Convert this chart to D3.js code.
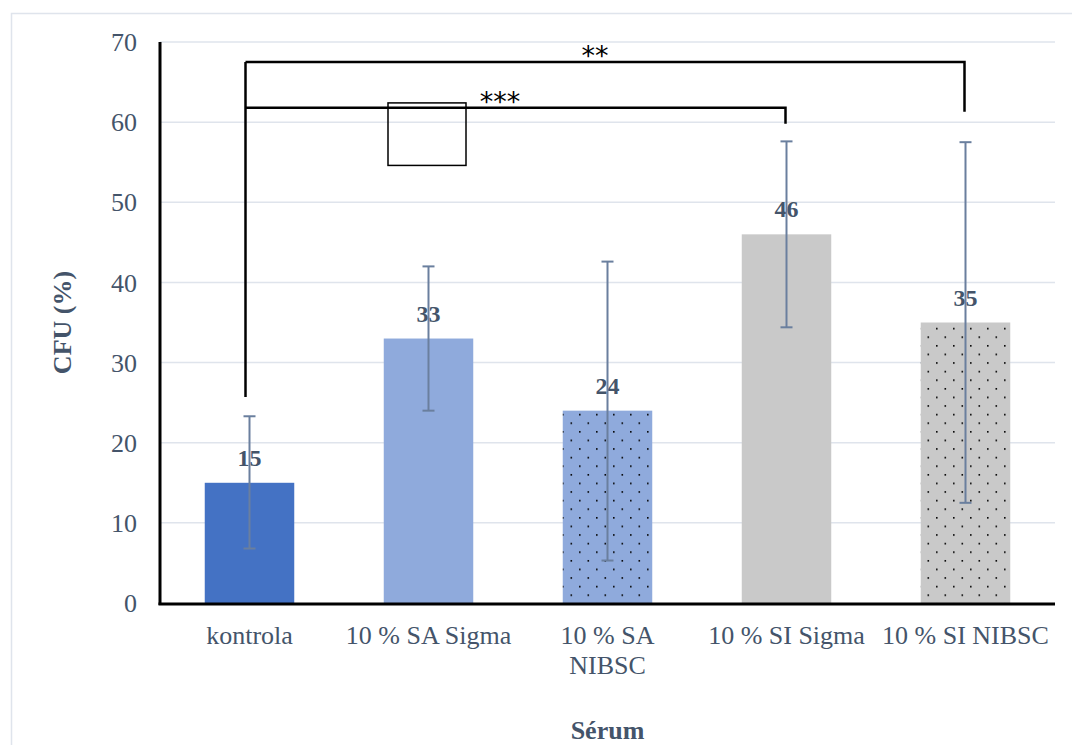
<!DOCTYPE html>
<html>
<head>
<meta charset="utf-8">
<script src="https://cdn.jsdelivr.net/npm/d3@7"></script>
<style>
  body { margin: 0; background: #fff; }
  svg { display: block; }
</style>
</head>
<body>
<div id="container"></div>
<script>
// Data
const categories = ['kontrola', '10 % SA Sigma', '10 % SA NIBSC', '10 % SI Sigma', '10 % SI NIBSC'];
const labelLines = [['kontrola'], ['10 % SA Sigma'], ['10 % SA', 'NIBSC'], ['10 % SI Sigma'], ['10 % SI NIBSC']];
const values = [15, 33, 24, 46, 35];
const errLow = [6.8, 24, 5.3, 34.4, 12.5];
const errHigh = [23.3, 42, 42.6, 57.6, 57.5];
const yTicks = [0, 10, 20, 30, 40, 50, 60, 70];
const fills = ['#4472c4', '#8faadc', '#8faadc', '#c9c9c9', '#c9c9c9'];
const dotted = [false, false, true, false, true];

// Significance brackets: [from index, to index, top value, right drop value, label]
const brackets = [
  [0, 4, 67.5, 61.3, '**'],
  [0, 3, 61.8, 59.8, '***']
];
const bracketLeftBottom = 25.7;

const W = 1072, H = 745;
const margin = { left: 160, right: 1055, top: 42, bottom: 603 };
const textColor = '#44546a';
const serif = '"Liberation Serif", "Times New Roman", serif';

const svg = d3.select('#container').append('svg')
  .attr('width', W)
  .attr('height', H);

// Frame
svg.append('rect')
  .attr('x', 11.5).attr('y', 13.5)
  .attr('width', W + 20).attr('height', H + 20)
  .attr('fill', 'none')
  .attr('stroke', '#dfe4ec')
  .attr('stroke-width', 1.5);

// Patterns for dotted bars
const defs = svg.append('defs');
dotted.forEach((d, i) => {
  if (!d) return;
  const p = defs.append('pattern')
    .attr('id', 'dots' + i)
    .attr('patternUnits', 'userSpaceOnUse')
    .attr('width', 17).attr('height', 17.2)
    .attr('x', 0).attr('y', 0);
  p.append('rect').attr('width', 17).attr('height', 17.2).attr('fill', fills[i]);
  p.append('rect').attr('x', 1).attr('y', 1).attr('width', 1.6).attr('height', 1.6).attr('fill', '#000');
  p.append('rect').attr('x', 9.5).attr('y', 9.6).attr('width', 1.6).attr('height', 1.6).attr('fill', '#000');
});

// Scales
const x = d3.scaleBand().domain(categories).range([margin.left, margin.right]).paddingInner(0.5).paddingOuter(0.25);
const y = d3.scaleLinear().domain([0, 70]).range([margin.bottom, margin.top]);

// Grid
svg.append('g')
  .selectAll('line')
  .data(yTicks.filter(t => t > 0))
  .join('line')
  .attr('x1', margin.left).attr('x2', margin.right)
  .attr('y1', d => y(d)).attr('y2', d => y(d))
  .attr('stroke', '#dfe4ec')
  .attr('stroke-width', 1.5);

// Y tick labels
svg.append('g')
  .selectAll('text')
  .data(yTicks)
  .join('text')
  .attr('x', 137)
  .attr('y', d => y(d))
  .attr('dy', '0.35em')
  .attr('text-anchor', 'end')
  .attr('font-family', serif)
  .attr('font-size', 26)
  .attr('fill', textColor)
  .text(d => d);

// Bars
svg.append('g')
  .selectAll('rect')
  .data(values)
  .join('rect')
  .attr('x', (d, i) => x(categories[i]))
  .attr('y', d => y(d))
  .attr('width', x.bandwidth())
  .attr('height', d => y(0) - y(d))
  .attr('fill', (d, i) => dotted[i] ? `url(#dots${i})` : fills[i]);

// Data labels
svg.append('g')
  .selectAll('text')
  .data(values)
  .join('text')
  .attr('x', (d, i) => x(categories[i]) + x.bandwidth() / 2)
  .attr('y', d => y(d) - 17)
  .attr('text-anchor', 'middle')
  .attr('font-family', serif)
  .attr('font-weight', 'bold')
  .attr('font-size', 24)
  .attr('fill', textColor)
  .text(d => d);

// Error bars
const eb = svg.append('g').attr('stroke', '#6a7f9e').attr('stroke-width', 2);
categories.forEach((c, i) => {
  const cx = x(c) + x.bandwidth() / 2;
  eb.append('line').attr('x1', cx).attr('x2', cx).attr('y1', y(errLow[i])).attr('y2', y(errHigh[i]));
  [errLow[i], errHigh[i]].forEach(v => {
    eb.append('line').attr('x1', cx - 6).attr('x2', cx + 6).attr('y1', y(v)).attr('y2', y(v));
  });
});

// Axes lines
svg.append('line')
  .attr('x1', margin.left).attr('x2', margin.left)
  .attr('y1', y(70)).attr('y2', y(0) + 2)
  .attr('stroke', '#000').attr('stroke-width', 3);
svg.append('line')
  .attr('x1', margin.left - 1.5).attr('x2', margin.right)
  .attr('y1', y(0) + 1).attr('y2', y(0) + 1)
  .attr('stroke', '#000').attr('stroke-width', 3);

// Category labels
const cl = svg.append('g')
  .selectAll('text')
  .data(labelLines)
  .join('text')
  .attr('x', (d, i) => x(categories[i]) + x.bandwidth() / 2)
  .attr('y', 644)
  .attr('text-anchor', 'middle')
  .attr('font-family', serif)
  .attr('font-size', 26)
  .attr('fill', textColor);
cl.selectAll('tspan')
  .data(d => d)
  .join('tspan')
  .attr('x', function () { return this.parentNode.getAttribute('x'); })
  .attr('dy', (d, j) => j === 0 ? 0 : 30)
  .text(d => d);

// Axis titles
svg.append('text')
  .attr('transform', `translate(71, ${y(35)}) rotate(-90)`)
  .attr('text-anchor', 'middle')
  .attr('font-family', serif)
  .attr('font-weight', 'bold')
  .attr('font-size', 26)
  .attr('fill', textColor)
  .text('CFU (%)');

svg.append('text')
  .attr('x', x(categories[2]) + x.bandwidth() / 2)
  .attr('y', 739)
  .attr('text-anchor', 'middle')
  .attr('font-family', serif)
  .attr('font-weight', 'bold')
  .attr('font-size', 26)
  .attr('fill', textColor)
  .text('Sérum');

// Significance brackets
const br = svg.append('g').attr('fill', 'none').attr('stroke', '#000').attr('stroke-width', 2.5);
const leftX = x(categories[0]) + x.bandwidth() / 2 - 4;
br.append('line')
  .attr('x1', leftX).attr('x2', leftX)
  .attr('y1', y(brackets[0][2])).attr('y2', y(bracketLeftBottom));
brackets.forEach(b => {
  const rx = x(categories[b[1]]) + x.bandwidth() / 2 - 1;
  br.append('path')
    .attr('d', `M${leftX},${y(b[2])}H${rx}V${y(b[3])}`);
});

// Asterisk labels
const starX = [595, 500];
svg.append('g')
  .selectAll('text')
  .data(brackets)
  .join('text')
  .attr('x', (d, i) => starX[i])
  .attr('y', d => y(d[2]) + 3)
  .attr('text-anchor', 'middle')
  .attr('font-family', '"DejaVu Sans", sans-serif')
  .attr('font-size', 27)
  .attr('fill', '#000')
  .text(d => d[4]);

// Stray empty box
svg.append('rect')
  .attr('x', 388).attr('y', y(62.4))
  .attr('width', 78).attr('height', y(54.6) - y(62.4))
  .attr('fill', 'none')
  .attr('stroke', '#000')
  .attr('stroke-width', 1.5);
</script>
</body>
</html>
